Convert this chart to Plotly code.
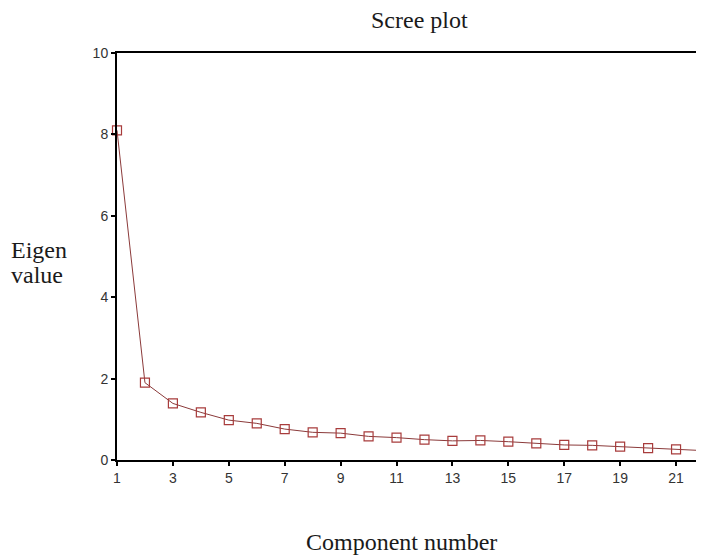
import plotly.graph_objects as go

components = list(range(1, 23))
eigenvalues = [8.1, 1.9, 1.39, 1.17, 0.98, 0.9, 0.76, 0.68, 0.66, 0.58, 0.55,
               0.5, 0.47, 0.48, 0.45, 0.41, 0.37, 0.36, 0.33, 0.29, 0.26, 0.23]
x_ticks = [1, 3, 5, 7, 9, 11, 13, 15, 17, 19, 21]
y_ticks = [0, 2, 4, 6, 8, 10]

fig = go.Figure()
fig.add_trace(go.Scatter(
    x=components, y=eigenvalues, mode="lines+markers",
    line=dict(color="#8b3a3a", width=1),
    marker=dict(symbol="square-open", size=9, color="#a83c3c", line=dict(width=1.2)),
    cliponaxis=False,
    showlegend=False,
))

axis_font = dict(family="Liberation Sans, Arial", size=14, color="#333333")
serif = dict(family="Liberation Serif, Times New Roman", size=24, color="#1a1a1a")
fig.update_layout(
    width=696, height=550,
    margin=dict(l=109, r=0, t=45, b=98),
    paper_bgcolor="white", plot_bgcolor="white",
    xaxis=dict(range=[1, 22], tickvals=x_ticks, showgrid=False, zeroline=False,
               showline=True, linecolor="black", linewidth=2, mirror=True,
               ticks="outside", ticklen=4, tickwidth=2, tickcolor="black", tickfont=axis_font),
    yaxis=dict(range=[0, 10], tickvals=y_ticks, showgrid=False, zeroline=False,
               showline=True, linecolor="black", linewidth=2,
               ticks="outside", ticklen=4, tickwidth=2, tickcolor="black", tickfont=axis_font),
    annotations=[
        dict(text="Scree plot", xref="paper", yref="paper", x=0.516, y=1.0,
             yshift=33, yanchor="middle", showarrow=False, font=serif),
        dict(text="Component number", xref="paper", yref="paper", x=0.484, y=0,
             yshift=-82, yanchor="middle", showarrow=False, font=serif),
        dict(text="Eigen", xref="paper", yref="paper", x=0, xshift=-108,
             y=0.516, yanchor="middle", xanchor="left", showarrow=False, font=serif),
        dict(text="value", xref="paper", yref="paper", x=0, xshift=-108,
             y=0.4545, yanchor="middle", xanchor="left", showarrow=False, font=serif),
    ],
)

fig.write_html("out.html")
